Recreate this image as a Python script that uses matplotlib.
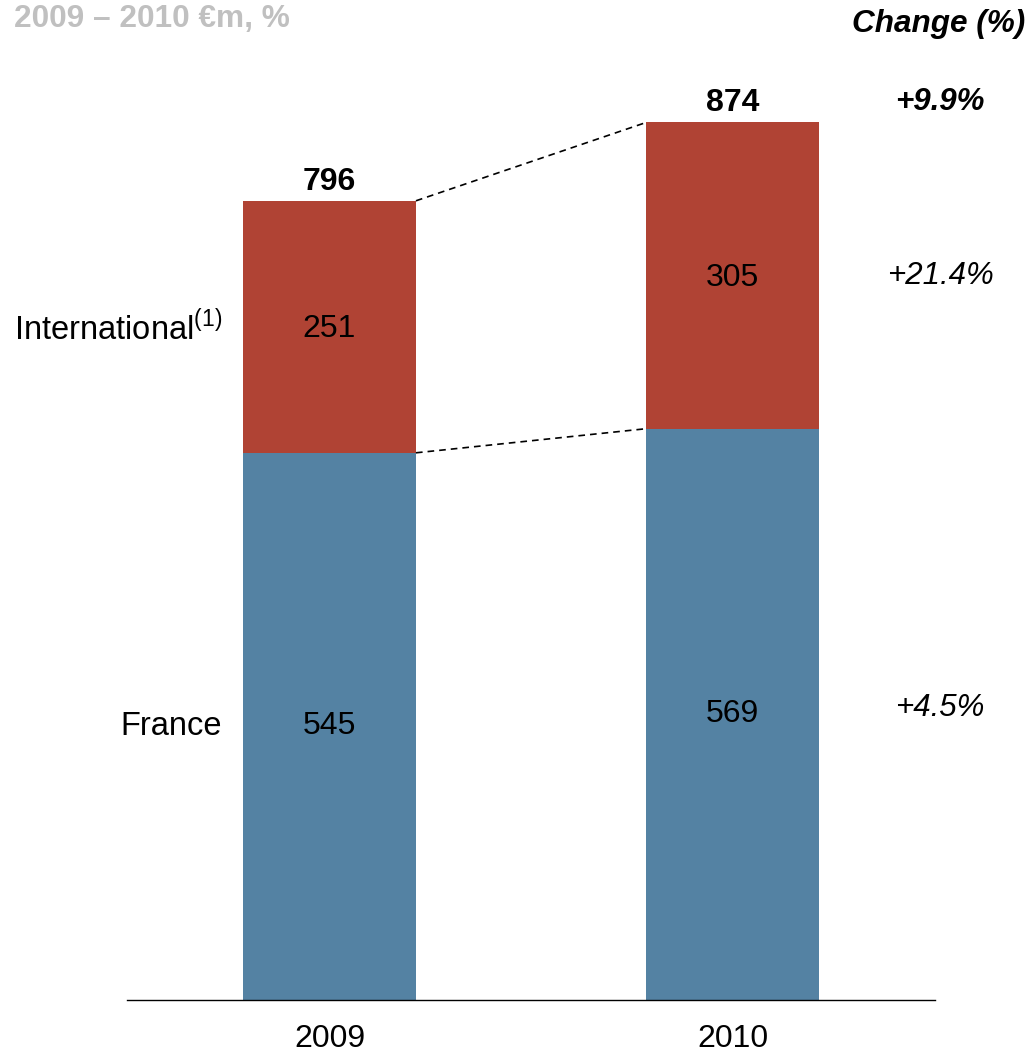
import numpy as np
import matplotlib.pyplot as plt
import matplotlib.transforms as mtransforms

plt.rcParams['font.family'] = ['Liberation Sans', 'DejaVu Sans']
plt.rcParams['mathtext.fontset'] = 'custom'
plt.rcParams['mathtext.rm'] = 'Liberation Sans'

# dane
lata = ['2009', '2010']
francja = [545, 569]
miedzynarodowe = [251, 305]
suma = [796, 874]
zmiany = ['+9.9%', '+21.4%', '+4.5%']

kolor_fr = '#5482A3'
kolor_int = '#B04334'

fig = plt.figure(figsize=(10.32, 10.55), dpi=100)
ax = fig.add_axes([127/1032, 1 - 1000/1055, 808/1032, 1000/1055])

x = np.arange(len(lata))
w = 0.429
ax.bar(x, francja, w, color=kolor_fr)
ax.bar(x, miedzynarodowe, w, bottom=francja, color=kolor_int)

ax.set_xlim(-0.5025, 1.5025)
ax.set_ylim(0, 996)

# linie przerywane miedzy slupkami
ax.plot([x[0] + w/2, x[1] - w/2], [suma[0], suma[1]], ls=(0, (4, 3)), color='black', lw=1.2)
ax.plot([x[0] + w/2, x[1] - w/2], [francja[0], francja[1]], ls=(0, (4, 3)), color='black', lw=1.2)

for i in range(len(lata)):
    ax.text(x[i], francja[i]/2, str(francja[i]), ha='center', va='center', fontsize=23)
    ax.text(x[i], francja[i] + miedzynarodowe[i]/2 - 2, str(miedzynarodowe[i]),
            ha='center', va='center', fontsize=23)
    ax.annotate(str(suma[i]), (x[i], suma[i]), xytext=(0, 3), textcoords='offset points',
                ha='center', va='bottom', fontsize=23, fontweight='bold')

# etykiety serii po lewej
ax.text(x[0] - w/2 - 0.052, francja[0] + miedzynarodowe[0]/2 - 2, 'International$^{(1)}$',
        ha='right', va='center', fontsize=23.5)
ax.text(x[0] - w/2 - 0.052, francja[0]/2, 'France', ha='right', va='center', fontsize=23.5)

# kolumna zmian
tr = mtransforms.blended_transform_factory(fig.transFigure, ax.transData)
xz = 940/1032
ax.text(xz, suma[1] + 20, zmiany[0], transform=tr, ha='center', va='center',
        fontsize=22.5, fontweight='bold', style='italic', clip_on=False)
ax.text(xz, francja[1] + miedzynarodowe[1]/2, zmiany[1], transform=tr, ha='center',
        va='center', fontsize=22.5, style='italic', clip_on=False)
ax.text(xz, francja[1]/2 + 6, zmiany[2], transform=tr, ha='center', va='center',
        fontsize=22.5, style='italic', clip_on=False)

fig.text(1025/1032, 1 - 24/1055, 'Change (%)', ha='right', va='center',
         fontsize=22.7, fontweight='bold', style='italic')
fig.text(14/1032, 1 - 19/1055, '2009 \u2013 2010 \u20acm, %', ha='left', va='center',
         fontsize=22.8, fontweight='bold', color='#C0C0C0')

for s in ['top', 'right', 'left']:
    ax.spines[s].set_visible(False)
ax.spines['bottom'].set_linewidth(1)
ax.set_yticks([])
ax.set_xticks(x)
ax.set_xticklabels(lata, fontsize=23)
ax.tick_params(axis='x', length=0, pad=17)
ax.patch.set_alpha(0)

fig.savefig('out.png', dpi=100)
